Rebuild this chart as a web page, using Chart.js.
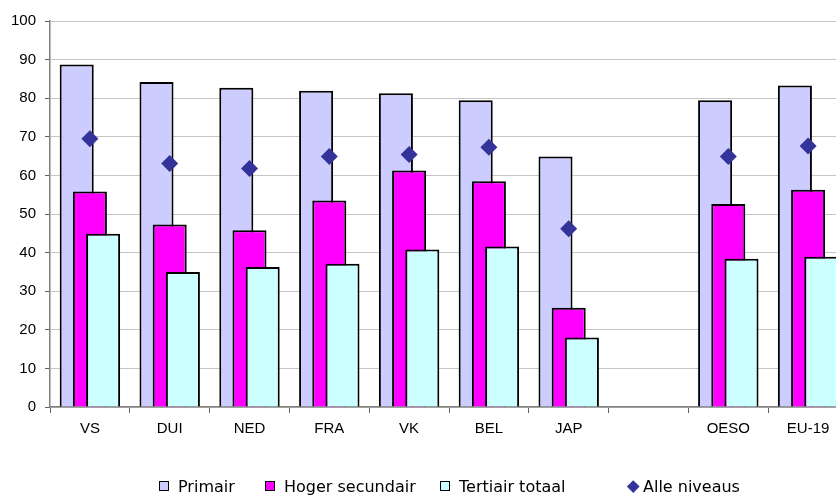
<!DOCTYPE html>
<html>
<head>
<meta charset="utf-8">
<script src="https://cdn.jsdelivr.net/npm/chart.js@4.4.0/dist/chart.umd.min.js"></script>
<style>
    html, body { margin: 0; padding: 0; overflow: hidden; background: #fff; width: 836px; height: 496px; }
    #wrap { position: relative; width: 860px; height: 496px; }
    .legend-item { position: absolute; top: 477px; height: 18px; display: flex; align-items: center;
        font-family: 'DejaVu Sans', sans-serif; font-size: 16px; color: #000; white-space: nowrap; }
    .legend-box { width: 10px; height: 10px; border: 1.5px solid #000; box-sizing: border-box; margin-right: 9px; }
    .legend-diamond { width: 8.5px; height: 8.5px; margin-left: 1.75px; margin-right: 5.75px; transform: rotate(45deg); }
</style>
</head>
<body>
<div id="wrap">
    <canvas id="chart" width="860" height="496"></canvas>
    <div id="legend"></div>
</div>
<script>
const categories = ['VS', 'DUI', 'NED', 'FRA', 'VK', 'BEL', 'JAP', '', 'OESO', 'EU-19'];
const primair = [88.7, 84.2, 82.7, 81.9, 81.3, 79.5, 64.9, null, 79.5, 83.3];
const hogerSecundair = [55.8, 47.3, 45.8, 53.5, 61.3, 58.5, 25.7, null, 52.6, 56.3];
const tertiairTotaal = [44.9, 35.0, 36.3, 37.1, 40.8, 41.6, 18.0, null, 38.4, 38.9];
const alleNiveaus = [69.5, 63.1, 61.8, 64.9, 65.4, 67.3, 46.2, null, 64.9, 67.6];

// left edge of each legend entry
const legendLeft = [159, 265, 440, 627];

// bars overlap: draw them left to right, diamonds last
const drawInOrder = {
    id: 'drawInOrder',
    beforeDatasetsDraw(chart) {
        chart.data.datasets.forEach((ds, i) => {
            const meta = chart.getDatasetMeta(i);
            if (meta.visible) meta.controller.draw();
        });
        return false;
    }
};

const barStyle = {
    borderColor: '#000',
    borderWidth: 2,
    categoryPercentage: 0.496,
    barPercentage: 2.58
};

const data = {
    labels: categories,
    datasets: [
        Object.assign({ label: 'Primair', data: primair, backgroundColor: '#ccccff' }, barStyle),
        Object.assign({ label: 'Hoger secundair', data: hogerSecundair, backgroundColor: '#ff00ff' }, barStyle),
        Object.assign({ label: 'Tertiair totaal', data: tertiairTotaal, backgroundColor: '#ccffff' }, barStyle),
        {
            type: 'line',
            label: 'Alle niveaus',
            data: alleNiveaus,
            showLine: false,
            pointStyle: 'rectRot',
            pointRadius: 8.5,
            pointHoverRadius: 8.5,
            pointBorderWidth: 0,
            backgroundColor: '#333399',
            borderColor: '#333399'
        }
    ]
};

const config = {
    type: 'bar',
    data: data,
    plugins: [drawInOrder],
    options: {
        responsive: false,
        animation: false,
        layout: { padding: { top: 21, right: 12, left: 0, bottom: 0 } },
        plugins: { legend: { display: false }, tooltip: { enabled: false } },
        scales: {
            x: {
                offset: true,
                grid: { offset: true, drawOnChartArea: false, tickLength: 6, tickColor: '#606060', lineWidth: 1 },
                border: { color: '#808080', width: 1.5 },
                ticks: { color: '#000', maxRotation: 0, autoSkip: false, padding: 7,
                    font: { family: 'Liberation Sans', size: 15 } },
                afterFit: scale => { scale.height = 89; }
            },
            y: {
                min: 0,
                max: 100,
                grid: { color: '#c4c4c4', tickColor: '#606060', tickLength: 5, lineWidth: 1 },
                border: { color: '#808080', width: 1.5 },
                ticks: { stepSize: 10, color: '#000', padding: 9,
                    font: { family: 'Liberation Sans', size: 15 } },
                afterFit: scale => { scale.width = 50; }
            }
        }
    }
};

const myChart = new Chart(document.getElementById('chart'), config);

// html legend built from the datasets
let output = '';
myChart.data.datasets.forEach((ds, i) => {
    const marker = ds.type === 'line'
        ? `<div class="legend-diamond" style="background-color: ${ds.backgroundColor}"></div>`
        : `<div class="legend-box" style="background-color: ${ds.backgroundColor}"></div>`;
    output += `<div class="legend-item" style="left: ${legendLeft[i]}px">${marker}<span>${ds.label}</span></div>`;
});
document.getElementById('legend').innerHTML = output;
</script>
</body>
</html>
